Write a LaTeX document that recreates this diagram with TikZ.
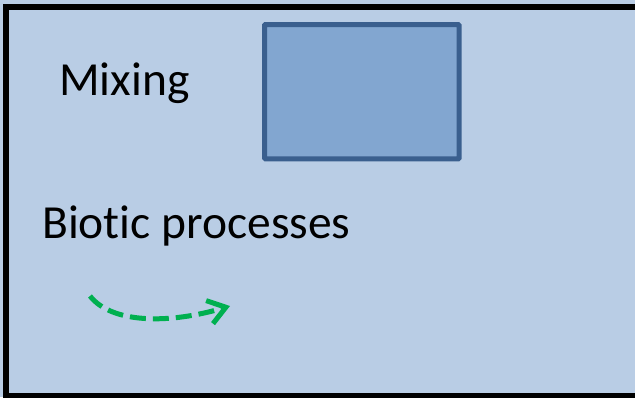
\documentclass[tikz,border=0pt]{standalone}
\usepackage{fontspec}
\setmainfont[Ligatures={NoCommon}]{Carlito}
\definecolor{bgblue}{HTML}{B9CDE5}
\definecolor{boxfill}{HTML}{82A6D0}
\definecolor{boxline}{HTML}{3A5F8E}
\definecolor{arrgreen}{HTML}{00B050}
\tikzset{
  lbl/.style={anchor=base west, inner sep=0pt, font=\fontsize{47.5pt}{50pt}\selectfont, text=black},
  mixbox/.style={draw=boxline, fill=boxfill, line width=5pt, rounded corners=1pt},
  greenarrow/.style={draw=arrgreen, line width=5pt, dash pattern=on 16pt off 7pt, -{Straight Barb[length=17pt,width=24pt,line width=5pt]}}
}
\usetikzlibrary{arrows.meta}
\begin{document}
\begin{tikzpicture}[x=1pt,y=-1pt]
\useasboundingbox (0,0) rectangle (635,397);
\clip (0,0) rectangle (635,397);
\fill[bgblue] (0,0) rectangle (635,397);
\draw[line width=5.5pt] (6,7) rectangle (641,396);
\node[mixbox, minimum width=194.7pt, minimum height=134.4pt, inner sep=0pt, anchor=north west] (box) at (262,22) {};
\node[lbl] (mix) at (59,95.3) {Mixing};
\node[lbl] (bio) at (42,238.7) {Biotic processes};
\coordinate (as) at (90,296);
\coordinate (ae) at (230,306);
\draw[greenarrow] (as) .. controls (112,324) and (170,324) .. (ae);
\end{tikzpicture}
\end{document}
